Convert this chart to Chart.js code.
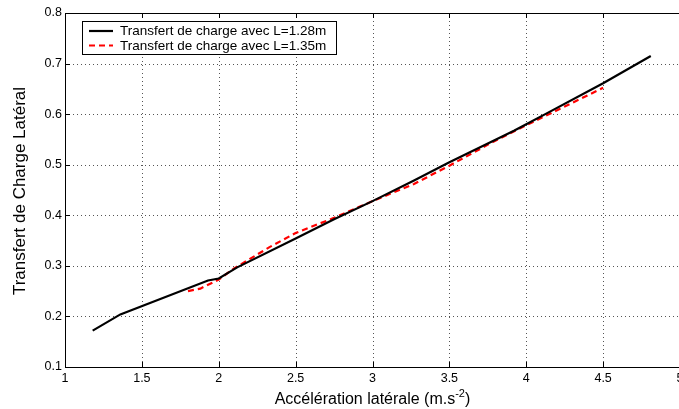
<!DOCTYPE html>
<html>
<head>
<meta charset="utf-8">
<script src="https://cdn.jsdelivr.net/npm/chart.js@4.4.0/dist/chart.umd.min.js"></script>
<style>
  html, body { margin: 0; padding: 0; background: #fff; overflow: hidden; }
  canvas { display: block; }
</style>
</head>
<body>
<canvas id="chart" width="700" height="409"></canvas>
<script>
// Lateral load transfer vs lateral acceleration, for two wheelbase lengths
const accel128 = [1.18, 1.36, 1.93, 2.0, 2.12, 2.5, 2.75, 3.0, 3.27, 3.5, 3.92, 4.0, 4.13, 4.5, 4.81];
const ltr128 = [0.172, 0.204, 0.271, 0.275, 0.297, 0.354, 0.392, 0.428, 0.469, 0.505, 0.567, 0.58, 0.601, 0.661, 0.715];

const accel135 = [1.80, 1.88, 2.0, 2.1, 2.33, 2.5, 2.75, 3.0, 3.27, 3.5, 3.77, 4.0, 4.25, 4.5];
const ltr135 = [0.250, 0.255, 0.273, 0.295, 0.337, 0.365, 0.395, 0.428, 0.462, 0.498, 0.543, 0.578, 0.615, 0.652];

const seriesLabels = ["Transfert de charge avec L=1.28m", "Transfert de charge avec L=1.35m"];

const xTicks = [1, 1.5, 2, 2.5, 3, 3.5, 4, 4.5, 5];
const yTicks = [0.1, 0.2, 0.3, 0.4, 0.5, 0.6, 0.7, 0.8];

const yTitle = "Transfert de Charge Latéral";
const xTitle = "Accélération latérale (m.s";
const xTitleExp = "-2";

const FONT = '"Liberation Sans", Arial, sans-serif';
Chart.defaults.font.family = FONT;
Chart.defaults.color = "#000";

function toPoints(xs, ys) {
    return xs.map((x, i) => ({ x: x, y: ys[i] }));
}

const px = v => Math.round(v) + 0.5;

// dotted grid under the curves
const dottedGrid = {
    id: "dottedGrid",
    beforeDatasetsDraw(chart) {
        const ctx = chart.ctx;
        const a = chart.chartArea;
        const sx = chart.scales.x;
        const sy = chart.scales.y;
        ctx.save();
        ctx.strokeStyle = "#555";
        ctx.lineWidth = 1;
        ctx.setLineDash([1, 3]);
        xTicks.forEach(v => {
            const x = px(sx.getPixelForValue(v));
            ctx.beginPath();
            ctx.moveTo(x, a.top);
            ctx.lineTo(x, a.bottom);
            ctx.stroke();
        });
        yTicks.forEach(v => {
            const y = px(sy.getPixelForValue(v));
            ctx.beginPath();
            ctx.moveTo(a.left, y);
            ctx.lineTo(a.right, y);
            ctx.stroke();
        });
        ctx.restore();
    }
};

// frame, inward ticks, legend box and axis titles
const matlabFrame = {
    id: "matlabFrame",
    afterDraw(chart) {
        const ctx = chart.ctx;
        const a = chart.chartArea;
        const sx = chart.scales.x;
        const sy = chart.scales.y;

        ctx.save();
        ctx.strokeStyle = "#000";
        ctx.lineWidth = 1;
        ctx.setLineDash([]);

        // axes box
        ctx.beginPath();
        ctx.moveTo(px(a.left), px(a.top));
        ctx.lineTo(px(a.right), px(a.top));
        ctx.moveTo(px(a.left), px(a.top));
        ctx.lineTo(px(a.left), px(a.bottom));
        ctx.lineTo(px(a.right), px(a.bottom));
        ctx.stroke();

        // inward ticks
        ctx.beginPath();
        xTicks.forEach(v => {
            const x = px(sx.getPixelForValue(v));
            ctx.moveTo(x, a.bottom);
            ctx.lineTo(x, a.bottom - 5);
            ctx.moveTo(x, a.top);
            ctx.lineTo(x, a.top + 5);
        });
        yTicks.forEach(v => {
            const y = px(sy.getPixelForValue(v));
            ctx.moveTo(a.left, y);
            ctx.lineTo(a.left + 5, y);
        });
        ctx.stroke();

        // legend
        const lx = 82.5, ly = 21.5, lw = 254, lh = 33;
        ctx.fillStyle = "#fff";
        ctx.fillRect(lx, ly, lw, lh);
        ctx.strokeRect(lx, ly, lw, lh);
        ctx.font = "13.5px " + FONT;
        ctx.textBaseline = "middle";
        ctx.textAlign = "left";
        chart.data.datasets.forEach((ds, i) => {
            const y = 31 + i * 14.5;
            ctx.save();
            ctx.strokeStyle = ds.borderColor;
            ctx.lineWidth = ds.borderWidth;
            ctx.setLineDash(ds.borderDash || []);
            ctx.beginPath();
            ctx.moveTo(89, y);
            ctx.lineTo(113, y);
            ctx.stroke();
            ctx.restore();
            ctx.fillStyle = "#000";
            ctx.fillText(ds.label, 120, y + 0.5);
        });

        // y title
        ctx.font = "17px " + FONT;
        ctx.save();
        ctx.translate(20, (a.top + a.bottom) / 2 + 1);
        ctx.rotate(-Math.PI / 2);
        ctx.textAlign = "center";
        ctx.textBaseline = "middle";
        ctx.fillText(yTitle, 0, 0);
        ctx.restore();

        // x title with superscript exponent
        ctx.textBaseline = "alphabetic";
        ctx.textAlign = "left";
        ctx.font = "16px " + FONT;
        const w1 = ctx.measureText(xTitle).width;
        const w3 = ctx.measureText(")").width;
        ctx.font = "11px " + FONT;
        const w2 = ctx.measureText(xTitleExp).width;
        let tx = (a.left + a.right) / 2 - (w1 + w2 + w3) / 2;
        const base = 404;
        ctx.font = "16px " + FONT;
        ctx.fillText(xTitle, tx, base);
        tx += w1;
        ctx.font = "11px " + FONT;
        ctx.fillText(xTitleExp, tx, base - 7);
        tx += w2;
        ctx.font = "16px " + FONT;
        ctx.fillText(")", tx, base);

        ctx.restore();
    }
};

const whiteBg = {
    id: "whiteBg",
    beforeDraw(chart) {
        const ctx = chart.ctx;
        ctx.save();
        ctx.fillStyle = "#fff";
        ctx.fillRect(0, 0, chart.width, chart.height);
        ctx.restore();
    }
};

new Chart(document.getElementById("chart"), {
    type: "line",
    data: {
        datasets: [
            {
                label: seriesLabels[0],
                data: toPoints(accel128, ltr128),
                borderColor: "#000",
                borderWidth: 2.2,
                pointRadius: 0,
                tension: 0,
                fill: false
            },
            {
                label: seriesLabels[1],
                data: toPoints(accel135, ltr135),
                borderColor: "#ff0000",
                borderWidth: 2.2,
                borderDash: [6, 4],
                pointRadius: 0,
                tension: 0,
                fill: false
            }
        ]
    },
    options: {
        responsive: false,
        animation: false,
        events: [],
        layout: { padding: { top: 13, right: 20, left: 0, bottom: 0 } },
        plugins: {
            legend: { display: false },
            tooltip: { enabled: false }
        },
        scales: {
            x: {
                type: "linear",
                min: 1,
                max: 5,
                afterBuildTicks: s => { s.ticks = xTicks.map(v => ({ value: v })); },
                afterFit: s => { s.height = 42; },
                ticks: {
                    font: { size: 12.5 },
                    padding: 4,
                    maxRotation: 0,
                    autoSkip: false,
                    callback: v => String(v)
                },
                grid: { display: false, drawTicks: false },
                border: { display: false }
            },
            y: {
                type: "linear",
                min: 0.1,
                max: 0.8,
                afterBuildTicks: s => { s.ticks = yTicks.map(v => ({ value: v })); },
                afterFit: s => { s.width = 65; },
                ticks: {
                    font: { size: 12.5 },
                    padding: 3,
                    autoSkip: false,
                    callback: v => String(Math.round(v * 10) / 10)
                },
                grid: { display: false, drawTicks: false },
                border: { display: false }
            }
        }
    },
    plugins: [whiteBg, dottedGrid, matlabFrame]
});
</script>
</body>
</html>
